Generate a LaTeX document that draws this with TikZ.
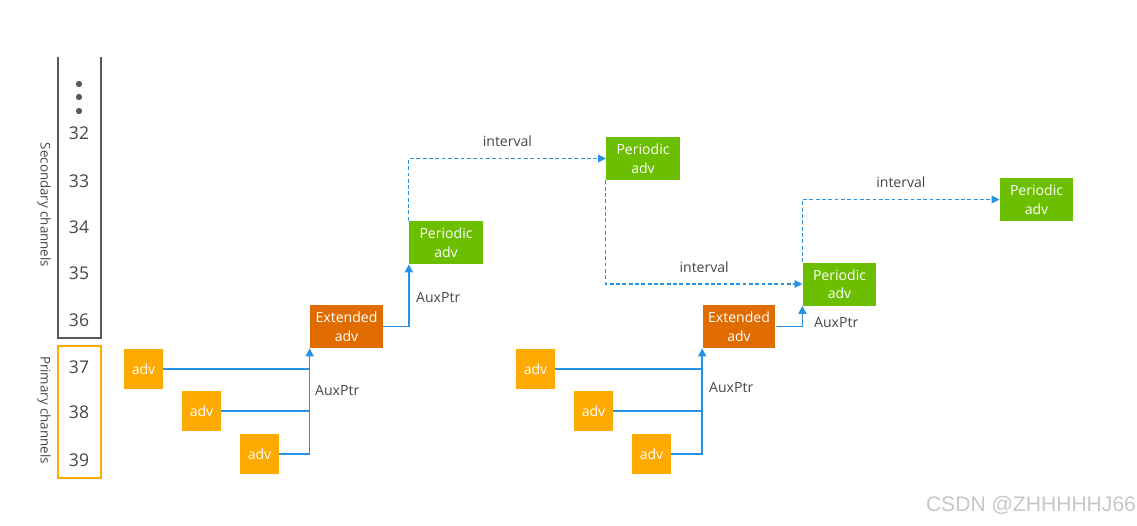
\documentclass[tikz,border=0pt]{standalone}
\usepackage{fontspec}
\setmainfont{Open Sans}
\newfontfamily\wmfont{Liberation Sans}
\usetikzlibrary{arrows.meta}
\definecolor{advorange}{RGB}{255,170,0}
\definecolor{extorange}{RGB}{224,108,0}
\definecolor{pergreen}{RGB}{108,190,0}
\definecolor{linkblue}{RGB}{40,145,225}
\definecolor{txtgray}{RGB}{70,70,70}
\definecolor{framegray}{RGB}{90,90,90}

\begin{document}
\begin{tikzpicture}[x=0.02cm, y=-0.02cm,
  box/.style={fill=#1, text=white, inner sep=0pt, align=center, font=\fontsize{8}{10.5}\selectfont},
  adv/.style={box=advorange, minimum width=0.78cm, minimum height=0.8cm},
  ext/.style={box=extorange, minimum width=1.46cm, minimum height=0.86cm},
  per/.style={box=pergreen, minimum width=1.47cm, minimum height=0.86cm},
  chan/.style={text=txtgray, font=\fontsize{10}{12}\selectfont},
  lbl/.style={text=txtgray, font=\fontsize{8}{10}\selectfont},
  aux/.style={draw=linkblue, line width=0.9pt},
  auxarrow/.style={aux, -{Triangle[length=4.5pt,width=4.5pt]}},
  ivl/.style={draw=linkblue, dash pattern=on 2.2pt off 1.4pt, line width=0.6pt, -{Triangle[length=4.5pt,width=4.5pt]}}
]
\useasboundingbox (0,0) rectangle (1137,525);

% channel ruler
\draw[framegray, line width=1.1pt] (58,57) -- (58,338) -- (101,338) -- (101,57);
\draw[advorange, line width=1pt] (58,346) rectangle (101,478);
\foreach \yy in {84,97,111}
  \fill[framegray] (79,\yy) circle (1.8pt);
\foreach \n/\yy in {32/133,33/181,34/227,35/273,36/320,37/367,38/412,39/460}
  \node[chan] (ch\n) at (79,\yy) {\n};
\node[lbl, rotate=-90, font=\fontsize{7.6}{9}\selectfont] (sec) at (44,205) {Secondary channels};
\node[lbl, rotate=-90, font=\fontsize{7.6}{9}\selectfont] (pri) at (44,410) {Primary channels};

% first train
\node[adv] (a1) at (143.5,369) {adv};
\node[adv] (a2) at (201.5,411) {adv};
\node[adv] (a3) at (259.5,454) {adv};
\node[ext] (e1) at (346.5,326.5) {Extended\\adv};
\node[per] (p1) at (446,242.5) {Periodic\\adv};
\node[per] (p2) at (643,158.5) {Periodic\\adv};
\node[per] (p3) at (839.5,284) {Periodic\\adv};

% second train
\node[adv] (a4) at (535.5,369) {adv};
\node[adv] (a5) at (593.5,411) {adv};
\node[adv] (a6) at (651.5,454) {adv};
\node[ext] (e2) at (739,326.5) {Extended\\adv};
\node[per] (p4) at (1036.5,199.5) {Periodic\\adv};

% AuxPtr links
\draw[aux] (a1.east) -- (a1.east -| e1.south west);
\draw[aux] (a2.east) -- (a2.east -| e1.south west);
\draw[auxarrow] (a3.east) -| (e1.south west);
\draw[auxarrow] (e1.east) -| (p1.south west);
\draw[aux] (a4.east) -- (a4.east -| e2.south west);
\draw[aux] (a5.east) -- (a5.east -| e2.south west);
\draw[auxarrow] (a6.east) -| (e2.south west);
\draw[auxarrow] (e2.east) -| (p3.south west);

\node[lbl, anchor=west] (x1) at (309,391) {AuxPtr};
\node[lbl, anchor=west] (x2) at (410,298) {AuxPtr};
\node[lbl, anchor=west] (x3) at (703,388) {AuxPtr};
\node[lbl, anchor=west] (x4) at (808,323) {AuxPtr};

% periodic intervals
\draw[ivl] (p1.north west) |- (p2.west) node[lbl, pos=0.75, above=3pt] (i1) {interval};
\draw[ivl] (p2.south west) |- (p3.west) node[lbl, pos=0.75, above=3pt] (i2) {interval};
\draw[ivl] (p3.north west) |- (p4.west) node[lbl, pos=0.75, above=3pt] (i3) {interval};

\node[text=black!22, font=\wmfont\fontsize{12}{14}\selectfont] (wm) at (1031,505) {CSDN @ZHHHHHJ66};
\end{tikzpicture}
\end{document}
